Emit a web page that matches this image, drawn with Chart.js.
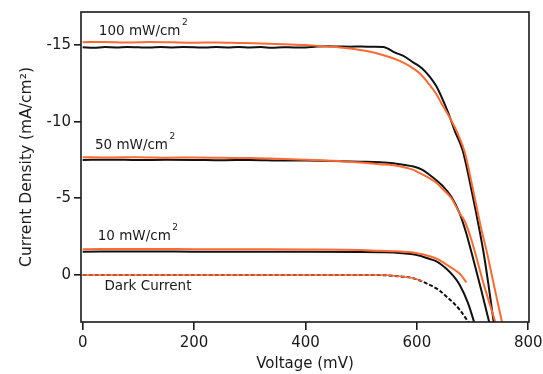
<!DOCTYPE html>
<html>
<head>
<meta charset="utf-8">
<script src="https://cdn.jsdelivr.net/npm/chart.js@4.4.1/dist/chart.umd.min.js"></script>
<style>
html, body { margin: 0; padding: 0; background: #fff; }
#wrap { width: 543px; height: 374px; }
</style>
</head>
<body>
<div id="wrap"><canvas id="iv" width="543" height="374"></canvas></div>
<script>
// J-V curves, voltage in mV, current density in mA/cm2 (negative = photocurrent)
var v100k = [0, 20, 40, 60, 80, 100, 120, 140, 160, 180, 200, 220, 240, 260, 280, 300, 320, 340, 360, 380, 400, 420, 440, 460, 480, 500, 520, 540, 550, 560, 575, 594, 609, 623, 635, 644, 656, 668, 682, 700, 712, 720, 728, 738];
var j100k = [-14.85, -14.82, -14.86, -14.84, -14.87, -14.85, -14.83, -14.86, -14.84, -14.86, -14.85, -14.83, -14.86, -14.84, -14.87, -14.84, -14.86, -14.82, -14.85, -14.84, -14.84, -14.9, -14.91, -14.9, -14.89, -14.9, -14.88, -14.86, -14.72, -14.52, -14.3, -13.85, -13.48, -12.93, -12.3, -11.63, -10.6, -9.4, -8.15, -5.2, -3.0, -1.4, 0.5, 3.1];

var v100o = [0, 40, 80, 120, 160, 200, 240, 280, 320, 360, 400, 438, 462, 490, 510, 534, 552, 570, 588, 605, 623, 634, 644, 660, 673, 686, 700, 716, 725, 738, 753];
var j100o = [-15.18, -15.2, -15.16, -15.19, -15.17, -15.15, -15.16, -15.13, -15.1, -15.05, -15.0, -14.9, -14.84, -14.72, -14.6, -14.4, -14.2, -13.95, -13.6, -13.15, -12.39, -11.85, -11.2, -10.2, -9.25, -8.0, -5.7, -2.93, -1.6, 0.6, 3.1];

var v50k = [0, 50, 100, 150, 200, 250, 300, 350, 400, 450, 498, 534, 558, 594, 610, 623, 636, 645, 662, 677, 688, 700, 715, 730];
var j50k = [-7.5, -7.52, -7.49, -7.51, -7.5, -7.48, -7.5, -7.47, -7.46, -7.43, -7.39, -7.35, -7.28, -7.07, -6.85, -6.52, -6.15, -5.85, -5.1, -4.0, -2.8, -1.2, 0.9, 3.1];

var v50o = [0, 50, 100, 150, 200, 250, 300, 350, 400, 450, 498, 534, 558, 594, 600, 623, 636, 645, 662, 677, 686, 698, 720, 741];
var j50o = [-7.68, -7.66, -7.68, -7.65, -7.66, -7.64, -7.62, -7.58, -7.52, -7.45, -7.33, -7.22, -7.15, -6.85, -6.74, -6.3, -5.98, -5.65, -5.0, -4.0, -3.5, -2.28, 0.6, 3.1];

var v10k = [0, 100, 200, 300, 400, 500, 534, 558, 600, 623, 636, 653, 665, 677, 692, 703];
var j10k = [-1.52, -1.53, -1.52, -1.51, -1.52, -1.5, -1.48, -1.46, -1.3, -1.04, -0.87, -0.4, 0.05, 0.65, 1.85, 3.1];

var v10o = [0, 100, 200, 300, 400, 500, 534, 558, 600, 623, 640, 653, 665, 677, 689];
var j10o = [-1.68, -1.69, -1.68, -1.67, -1.66, -1.62, -1.57, -1.55, -1.42, -1.22, -0.98, -0.68, -0.4, -0.08, 0.48];

var vDarkk = [0, 500, 534, 565, 594, 623, 640, 653, 665, 677, 693];
var jDarkk = [0, 0, 0.01, 0.08, 0.22, 0.65, 1.0, 1.41, 1.8, 2.28, 3.1];

var vDarko = [0, 500, 534, 565, 594, 610];
var jDarko = [0, 0, 0.01, 0.08, 0.22, 0.4];

var xTicks = [0, 200, 400, 600, 800];
var yTicks = [-15, -10, -5, 0];

var labelText = ['100 mW/cm', '50 mW/cm', '10 mW/cm', 'Dark Current'];
var labelSup = ['2', '2', '2', ''];
var labelV = [29, 22, 27, 39];
var labelJ = [-15.87, -8.43, -2.5, 0.76];

var black = '#111111';
var orange = '#ff6a33';

function pts(xs, ys) {
    var out = [];
    for (var i = 0; i < xs.length; i++) {
        out.push({x: xs[i], y: ys[i]});
    }
    return out;
}

function line(data, color, width, dash) {
    return {
        data: data,
        borderColor: color,
        borderWidth: width,
        borderDash: dash || [],
        pointRadius: 0,
        fill: false,
        cubicInterpolationMode: 'monotone'
    };
}

// orange first so black is drawn on top
var datasets = [
    line(pts(vDarko, jDarko), orange, 1.5),
    line(pts(v10o, j10o), orange, 2),
    line(pts(v50o, j50o), orange, 2),
    line(pts(v100o, j100o), orange, 2),
    line(pts(vDarkk, jDarkk), black, 2, [4, 2]),
    line(pts(v10k, j10k), black, 2),
    line(pts(v50k, j50k), black, 2),
    line(pts(v100k, j100k), black, 2)
];

var framePlugin = {
    id: 'frame',
    afterDatasetsDraw: function (chart) {
        var a = chart.chartArea;
        var c = chart.ctx;
        c.save();
        c.strokeStyle = '#1a1a1a';
        c.lineWidth = 1.6;
        c.strokeRect(a.left, a.top, a.right - a.left, a.bottom - a.top);
        c.restore();
    }
};

var labelPlugin = {
    id: 'curveLabels',
    afterDatasetsDraw: function (chart) {
        var c = chart.ctx;
        var xs = chart.scales.x;
        var ys = chart.scales.y;
        c.save();
        c.fillStyle = '#1a1a1a';
        c.textBaseline = 'middle';
        c.textAlign = 'left';
        for (var i = 0; i < labelText.length; i++) {
            var px = xs.getPixelForValue(labelV[i]);
            var py = ys.getPixelForValue(labelJ[i]);
            c.font = '13.5px "DejaVu Sans"';
            c.fillText(labelText[i], px, py);
            if (labelSup[i]) {
                var w = c.measureText(labelText[i]).width;
                c.font = '9px "DejaVu Sans"';
                c.fillText(labelSup[i], px + w + 1.5, py - 9);
            }
        }
        c.restore();
    }
};

new Chart(document.getElementById('iv').getContext('2d'), {
    type: 'line',
    data: {datasets: datasets},
    options: {
        responsive: false,
        animation: false,
        devicePixelRatio: 1,
        layout: {padding: {top: 12, right: 14, left: 0, bottom: 0}},
        plugins: {legend: {display: false}, tooltip: {enabled: false}},
        scales: {
            x: {
                type: 'linear',
                min: -3,
                max: 801.3,
                afterFit: function (s) { s.height = 52; s.paddingLeft = 0; s.paddingRight = 0; },
                afterBuildTicks: function (s) { s.ticks = xTicks.map(function (v) { return {value: v}; }); },
                border: {display: false},
                grid: {drawOnChartArea: false, drawTicks: true, tickLength: 8, tickColor: '#1a1a1a', lineWidth: 1.6},
                ticks: {color: '#1a1a1a', padding: 4, maxRotation: 0, font: {family: 'DejaVu Sans', size: 15}},
                title: {display: true, text: 'Voltage (mV)', color: '#1a1a1a', padding: {top: 0, bottom: 1}, font: {family: 'DejaVu Sans', size: 15}}
            },
            y: {
                type: 'linear',
                reverse: true,
                min: -17.15,
                max: 3.07,
                afterFit: function (s) { s.width = 81; s.paddingTop = 0; s.paddingBottom = 0; },
                afterBuildTicks: function (s) { s.ticks = yTicks.map(function (v) { return {value: v}; }); },
                border: {display: false},
                grid: {drawOnChartArea: false, drawTicks: true, tickLength: 7, tickColor: '#1a1a1a', lineWidth: 1.6},
                ticks: {color: '#1a1a1a', padding: 3, font: {family: 'DejaVu Sans', size: 15}},
                title: {display: true, text: 'Current Density (mA/cm\u00b2)', color: '#1a1a1a', padding: {top: 18, bottom: 0}, font: {family: 'DejaVu Sans', size: 15.5}}
            }
        }
    },
    plugins: [framePlugin, labelPlugin]
});
</script>
</body>
</html>
